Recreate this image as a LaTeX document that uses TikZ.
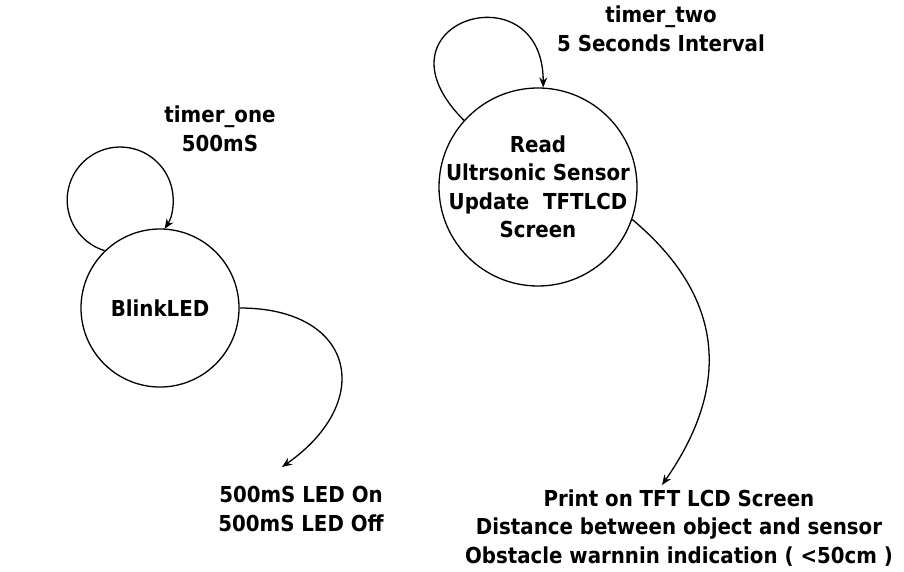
\documentclass[tikz,border=0pt]{standalone}
\usepackage{fontspec}
\setmainfont{DejaVu Sans Condensed}
\usetikzlibrary{arrows.meta}
\begin{document}
\begin{tikzpicture}[x=1pt,y=1pt,
  state/.style={draw, circle, line width=1.3pt, inner sep=0pt},
  lbl/.style={align=center, inner sep=0pt, font=\fontsize{22}{28.5}\selectfont\bfseries},
  conn/.style={line width=1.3pt, -{Stealth[length=10pt,width=8pt]}}]
\useasboundingbox[fill=white] (0,0) rectangle (904,571);
% states
\node[state, minimum size=158pt] (blink) at (160,263) {};
\node[lbl] (blinktxt) at (blink.center) {BlinkLED};
\node[state, minimum size=198pt] (read) at (538,384) {};
\node[lbl] (readtxt) at (read.center) {Read\\Ultrsonic Sensor\\Update~~TFTLCD\\Screen};
% labels
\node[lbl] (t1) at (220,442) {timer\_one\\500mS};
\node[lbl] (t2) at (661,542) {timer\_two\\5 Seconds Interval};
\node[lbl] (led) at (301,62) {500mS LED On\\500mS LED Off};
\node[lbl] (print) at (679,43) {Print on TFT LCD Screen\\Distance between object and sensor\\Obstacle warnnin indication ( <50cm )};
\coordinate (ledin) at (282,104);
\coordinate (printin) at (662,86);
% connectors
\draw[conn] (blink.134) arc[start angle=253, end angle=-33, radius=53];
\draw[conn] (read.138) .. controls +(-99,99) and +(0,120) .. (read.87);
\draw[conn] (blink.east) .. controls +(115,0) and +(94,66) .. (ledin);
\draw[conn] (read.-19) .. controls +(93,-78) and +(69,99) .. (printin);
\end{tikzpicture}
\end{document}
